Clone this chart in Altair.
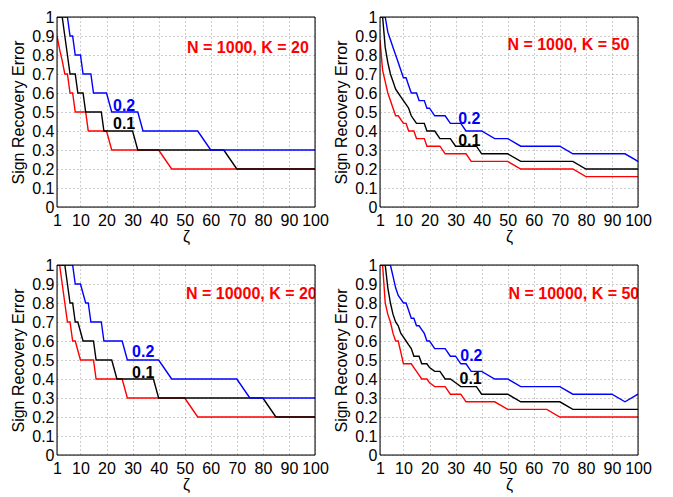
import altair as alt
import pandas as pd

# ---------------- data ----------------
zeta = list(range(1, 21)) + list(range(22, 41, 2)) + list(range(45, 101, 5))

panels = ["N = 1000, K = 20", "N = 1000, K = 50", "N = 10000, K = 20", "N = 10000, K = 50"]
series_names = ["0", "0.1", "0.2"]
series_colors = ["#ff0000", "#000000", "#0000ff"]

# panel 1: N = 1000, K = 20
p1_red = [0.9, 0.83, 0.77, 0.7, 0.7, 0.6, 0.6, 0.5, 0.5, 0.5, 0.5, 0.5, 0.4, 0.4, 0.4, 0.4, 0.4, 0.4, 0.4, 0.4,
          0.3, 0.3, 0.3, 0.3, 0.3, 0.3, 0.3, 0.3, 0.3, 0.3,
          0.2, 0.2, 0.2, 0.2, 0.2, 0.2, 0.2, 0.2, 0.2, 0.2, 0.2, 0.2]
p1_black = [1, 1, 1, 0.9, 0.8, 0.7, 0.7, 0.7, 0.6, 0.6, 0.6, 0.5, 0.5, 0.5, 0.5, 0.5, 0.5, 0.5, 0.4, 0.4,
            0.4, 0.4, 0.4, 0.4, 0.4, 0.3, 0.3, 0.3, 0.3, 0.3,
            0.3, 0.3, 0.3, 0.3, 0.3, 0.2, 0.2, 0.2, 0.2, 0.2, 0.2, 0.2]
p1_blue = [1, 1, 1, 1, 1, 0.9, 0.9, 0.8, 0.8, 0.8, 0.7, 0.7, 0.7, 0.7, 0.6, 0.6, 0.6, 0.6, 0.6, 0.6,
           0.5, 0.5, 0.5, 0.5, 0.5, 0.5, 0.4, 0.4, 0.4, 0.4,
           0.4, 0.4, 0.4, 0.3, 0.3, 0.3, 0.3, 0.3, 0.3, 0.3, 0.3, 0.3]

# panel 2: N = 1000, K = 50
p2_red = [0.88, 0.72, 0.66, 0.6, 0.56, 0.52, 0.48, 0.48, 0.46, 0.44, 0.44, 0.4, 0.4, 0.4, 0.36, 0.36, 0.36, 0.36, 0.32, 0.32,
          0.32, 0.32, 0.28, 0.28, 0.28, 0.28, 0.28, 0.24, 0.24, 0.24,
          0.24, 0.24, 0.2, 0.2, 0.2, 0.2, 0.2, 0.16, 0.16, 0.16, 0.16, 0.16]
p2_black = [1, 1, 0.84, 0.76, 0.7, 0.66, 0.62, 0.6, 0.58, 0.56, 0.54, 0.52, 0.48, 0.46, 0.44, 0.44, 0.44, 0.44, 0.4, 0.4,
            0.4, 0.36, 0.36, 0.36, 0.32, 0.32, 0.32, 0.32, 0.32, 0.28,
            0.28, 0.28, 0.24, 0.24, 0.24, 0.24, 0.24, 0.2, 0.2, 0.2, 0.2, 0.2]
p2_blue = [1, 1, 1, 0.92, 0.88, 0.84, 0.8, 0.76, 0.72, 0.68, 0.68, 0.64, 0.6, 0.6, 0.6, 0.56, 0.56, 0.56, 0.52, 0.52,
           0.48, 0.48, 0.48, 0.44, 0.44, 0.44, 0.4, 0.4, 0.4, 0.4,
           0.36, 0.36, 0.32, 0.32, 0.32, 0.32, 0.28, 0.28, 0.28, 0.28, 0.28, 0.24]

# panel 3: N = 10000, K = 20
p3_red = [1, 1, 0.9, 0.8, 0.7, 0.7, 0.6, 0.6, 0.55, 0.5, 0.5, 0.5, 0.5, 0.5, 0.5, 0.4, 0.4, 0.4, 0.4, 0.4,
          0.4, 0.4, 0.4, 0.3, 0.3, 0.3, 0.3, 0.3, 0.3, 0.3,
          0.3, 0.3, 0.2, 0.2, 0.2, 0.2, 0.2, 0.2, 0.2, 0.2, 0.2, 0.2]
p3_black = [1, 1, 1, 1, 0.9, 0.8, 0.8, 0.7, 0.7, 0.65, 0.6, 0.6, 0.6, 0.6, 0.6, 0.5, 0.5, 0.5, 0.5, 0.5,
            0.5, 0.4, 0.4, 0.4, 0.4, 0.4, 0.4, 0.4, 0.4, 0.3,
            0.3, 0.3, 0.3, 0.3, 0.3, 0.3, 0.3, 0.3, 0.2, 0.2, 0.2, 0.2]
p3_blue = [1, 1, 1, 1, 1, 1, 1, 0.9, 0.9, 0.9, 0.85, 0.8, 0.8, 0.7, 0.7, 0.7, 0.7, 0.7, 0.6, 0.6,
           0.6, 0.6, 0.6, 0.5, 0.5, 0.5, 0.5, 0.5, 0.5, 0.5,
           0.4, 0.4, 0.4, 0.4, 0.4, 0.4, 0.3, 0.3, 0.3, 0.3, 0.3, 0.3]

# panel 4: N = 10000, K = 50
p4_red = [1, 1, 0.8, 0.74, 0.7, 0.64, 0.6, 0.6, 0.54, 0.48, 0.48, 0.48, 0.48, 0.46, 0.44, 0.42, 0.4, 0.4, 0.4, 0.38,
          0.36, 0.36, 0.36, 0.32, 0.32, 0.32, 0.28, 0.28, 0.28, 0.28,
          0.28, 0.24, 0.24, 0.24, 0.24, 0.2, 0.2, 0.2, 0.2, 0.2, 0.2, 0.2]
p4_black = [1, 1, 1, 0.88, 0.8, 0.74, 0.7, 0.68, 0.64, 0.62, 0.6, 0.58, 0.56, 0.52, 0.52, 0.52, 0.48, 0.48, 0.48, 0.46,
            0.44, 0.44, 0.4, 0.4, 0.38, 0.36, 0.36, 0.36, 0.36, 0.32,
            0.32, 0.32, 0.28, 0.28, 0.28, 0.28, 0.24, 0.24, 0.24, 0.24, 0.24, 0.24]
p4_blue = [1, 1, 1, 1, 1, 0.94, 0.88, 0.84, 0.82, 0.8, 0.8, 0.76, 0.72, 0.72, 0.68, 0.68, 0.66, 0.64, 0.6, 0.6,
           0.56, 0.56, 0.56, 0.52, 0.52, 0.48, 0.48, 0.44, 0.44, 0.44,
           0.4, 0.4, 0.36, 0.36, 0.36, 0.36, 0.32, 0.32, 0.32, 0.32, 0.28, 0.32]

curves = {
    panels[0]: [p1_red, p1_black, p1_blue],
    panels[1]: [p2_red, p2_black, p2_blue],
    panels[2]: [p3_red, p3_black, p3_blue],
    panels[3]: [p4_red, p4_black, p4_blue],
}

# in-plot labels "0.2" / "0.1" (zeta, value) per panel
label_02_x = [22.5, 31.0, 29.8, 31.8]
label_02_y = [0.533, 0.462, 0.54, 0.52]
label_01_x = [22.5, 31.0, 29.8, 31.5]
label_01_y = [0.437, 0.35, 0.433, 0.40]
# panel annotation position
note_x = [50.9, 49.9, 50.5, 50.3]
note_y = [0.838, 0.853, 0.847, 0.847]

# ---------------- build ----------------
rows = []
for p in panels:
    for name, vals in zip(series_names, curves[p]):
        for z, v in zip(zeta, vals):
            rows.append({"panel": p, "series": name, "zeta": z, "value": v})
df = pd.DataFrame(rows)

FONT = "Liberation Sans"
W, H = 258, 190

x_scale = alt.Scale(domain=[1, 100], nice=False, zero=False)
y_scale = alt.Scale(domain=[0, 1], nice=False, zero=True)

grid_kw = dict(grid=True, gridDash=[1, 3], gridColor="#9a9a9a", gridWidth=1,
               ticks=False, domain=False, labelColor="black", titleColor="black",
               labelFont=FONT, titleFont=FONT, labelFontSize=16, titleFontSize=16,
               titleFontWeight="normal", labelOverlap=False)

x_axis = alt.Axis(values=[1, 10, 20, 30, 40, 50, 60, 70, 80, 90, 100], title="ζ",
                  labelFlush=False, labelPadding=5, titlePadding=0,
                  **grid_kw)
y_axis = alt.Axis(values=[0, 0.1, 0.2, 0.3, 0.4, 0.5, 0.6, 0.7, 0.8, 0.9, 1], format="~g",
                  title="Sign Recovery Error", labelPadding=3, titlePadding=5,
                  **grid_kw)


def X(field="zeta:Q"):
    return alt.X(field, scale=x_scale, axis=x_axis)


def Y(field="value:Q"):
    return alt.Y(field, scale=y_scale, axis=y_axis)


def panel(i):
    p = panels[i]
    base = alt.Chart(df).transform_filter(alt.datum.panel == p)
    layers = []
    for name, col in zip(series_names, series_colors):
        layers.append(
            base.transform_filter(alt.datum.series == name)
            .mark_line(color=col, strokeWidth=1.4, clip=True)
            .encode(x=X(), y=Y())
        )
    lab = pd.DataFrame({
        "zeta": [label_02_x[i], label_01_x[i]],
        "value": [label_02_y[i], label_01_y[i]],
        "txt": ["0.2", "0.1"],
        "col": ["#0000ff", "#000000"],
    })
    labels = alt.Chart(lab).mark_text(align="left", baseline="middle", font=FONT,
                                      fontSize=16, fontWeight="bold").encode(
        x=X(), y=Y(),
        text="txt:N",
        color=alt.Color("col:N", scale=None),
    )
    note_df = pd.DataFrame({"zeta": [note_x[i]], "value": [note_y[i]], "txt": [p]})
    note = alt.Chart(note_df).mark_text(align="left", baseline="middle", font=FONT,
                                        fontSize=16, fontWeight="bold", color="#ff0000",
                                        clip=True).encode(
        x=X(), y=Y(),
        text="txt:N",
    )
    frame_df = pd.DataFrame({"x0": [1], "x1": [100], "y0": [0], "y1": [1]})
    frame = alt.Chart(frame_df).mark_rect(fillOpacity=0, stroke="black", strokeWidth=1).encode(
        x=X("x0:Q"), x2="x1:Q", y=Y("y0:Q"), y2="y1:Q"
    )
    return alt.layer(*layers, labels, note, frame).properties(width=W, height=H)


row1 = alt.hconcat(panel(0), panel(1), spacing=4)
row2 = alt.hconcat(panel(2), panel(3), spacing=4)
chart = alt.vconcat(row1, row2, spacing=11).properties(
    padding={"left": 2, "top": 0, "right": 0, "bottom": 0}
).configure_view(stroke=None).configure(font=FONT, background="white")

chart.save("out.html", embed_options={"renderer": "svg", "actions": False})
